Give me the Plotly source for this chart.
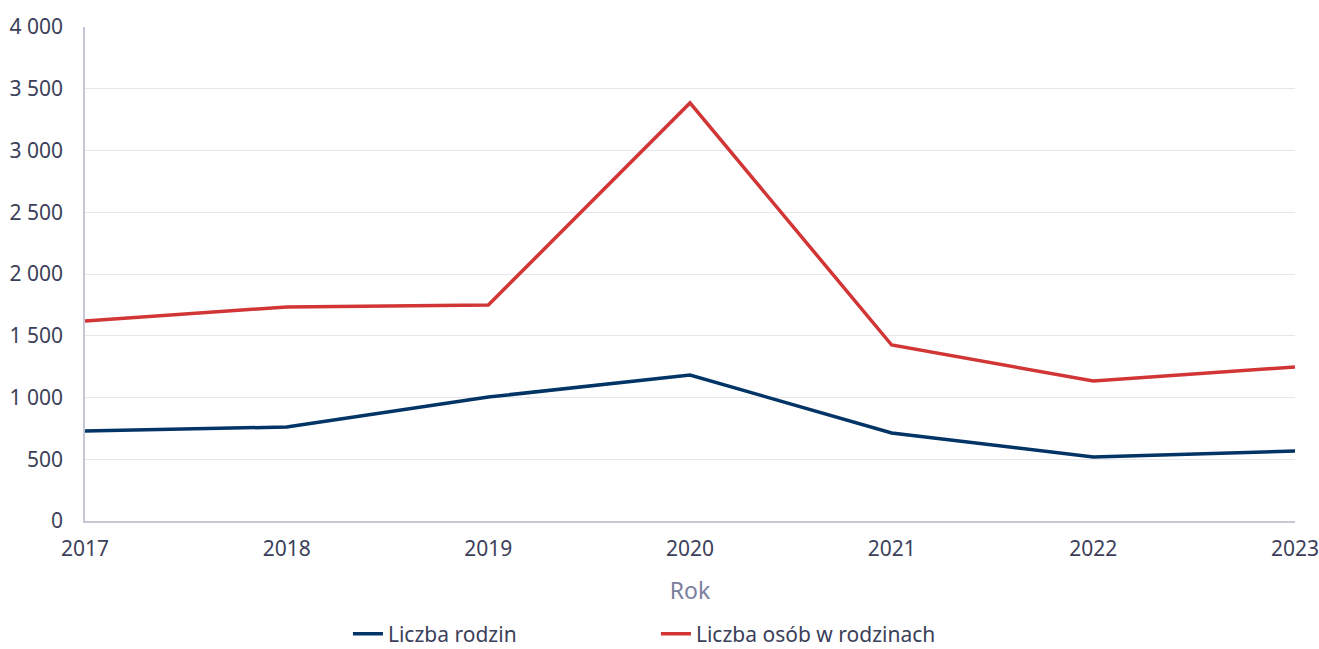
import plotly.graph_objects as go

years = [2017, 2018, 2019, 2020, 2021, 2022, 2023]
rodziny = [729, 761, 1004, 1182, 713, 518, 567]
osoby = [1619, 1733, 1749, 3385, 1425, 1134, 1247]
y_ticks = [0, 500, 1000, 1500, 2000, 2500, 3000, 3500, 4000]

FONT = "Noto Sans"
TICK_COLOR = "#3c3f5a"

fig = go.Figure()
fig.add_trace(go.Scatter(x=years, y=rodziny, mode="lines", name="Liczba rodzin",
                         line=dict(color="#033466", width=3.5)))
fig.add_trace(go.Scatter(x=years, y=osoby, mode="lines", name="Liczba osób w rodzinach",
                         line=dict(color="#d13535", width=3.5)))

fig.update_layout(
    width=1319, height=649,
    margin=dict(l=85, r=24, t=27, b=128, autoexpand=False),
    plot_bgcolor="white", paper_bgcolor="white",
    separators=", ",
    font=dict(family=FONT, size=21, color=TICK_COLOR),
    showlegend=True,
    legend=dict(orientation="h", xref="container", x=0.2638, xanchor="left",
                yref="paper", y=-0.229, yanchor="middle",
                entrywidth=263, font=dict(size=21, color=TICK_COLOR), itemwidth=30),
    xaxis=dict(range=[2017, 2023], tickvals=years, ticktext=[str(y) for y in years],
               showgrid=False, showline=True, linecolor="#c5c6d6", linewidth=1.5,
               ticks="", ticklabelstandoff=8, automargin=False, ticklabeloverflow="allow",
               title=dict(text="Rok", font=dict(size=23, color="#7b7e9c"), standoff=22)),
    yaxis=dict(range=[0, 4000], tickvals=y_ticks, tickformat=",d",
               showgrid=True, gridcolor="#e6e6ef", gridwidth=1,
               showline=True, linecolor="#c5c6d6", linewidth=1.5,
               zeroline=False, ticks="", ticklabelstandoff=16, automargin=False),
)

fig.write_html("out.html", config={"displayModeBar": False},
               post_script="document.body.style.margin='0px';")
